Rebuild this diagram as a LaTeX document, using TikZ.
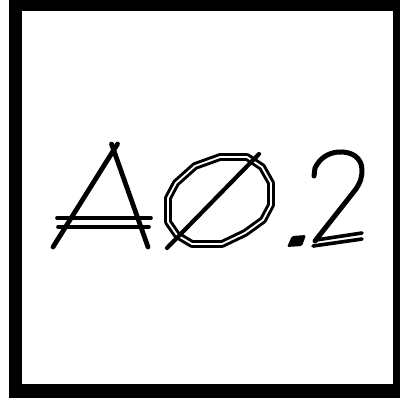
\documentclass[tikz,border=0pt]{standalone}
\begin{document}
\begin{tikzpicture}[x=1pt,y=-1pt,line cap=round,line join=round,
  stroke/.style={line width=#1,draw=black},
  dbl/.style={line width=3pt,double=white,double distance=1.8pt,draw=black}]
\fill[white] (0,0) rectangle (415,416);
\useasboundingbox (0,0) rectangle (415,416);
% frame
\fill[black] (9,0) rectangle (400,398);
\fill[white] (22,11) rectangle (393,384);
% A
\coordinate (al) at (53,247);
\coordinate (ar) at (148,247);
\coordinate (alt) at (117.5,144);
\coordinate (art) at (111.5,144);
\draw[stroke=4.8pt] (al) -- (alt);
\draw[stroke=4.8pt] (ar) -- (art);
\draw[stroke=3.6pt] (57,218) -- (151,218);
\draw[stroke=3.6pt] (58,227) -- (149,227);
% O with slash
\draw[dbl] (220,157) -- (247,157) -- (262,167) -- (271,183) -- (271,205) -- (263,220)
  -- (245,233) -- (222,244) -- (192,244) -- (177,235) -- (168,222) -- (168,198)
  -- (176,183) -- (195,166) -- cycle;
\coordinate (sb) at (167,248);
\coordinate (st) at (259,154);
\draw[stroke=4.2pt] (sb) -- (st);
% dot
\fill[rounded corners=1.5pt] (292,236) -- (306,235) -- (302,246) -- (287,247) -- cycle;
% 2
\draw[stroke=5pt] (314,176) -- (315,168) .. controls (320,158) and (328,153) .. (338,152)
  .. controls (352,151) and (362,158) .. (362,170) .. controls (362,178) and (360,183) .. (356,189)
  -- (315,241);
\draw[stroke=3.6pt] (316,240) -- (362,233);
\draw[stroke=3.6pt] (313,246) -- (362,239);
\end{tikzpicture}
\end{document}
